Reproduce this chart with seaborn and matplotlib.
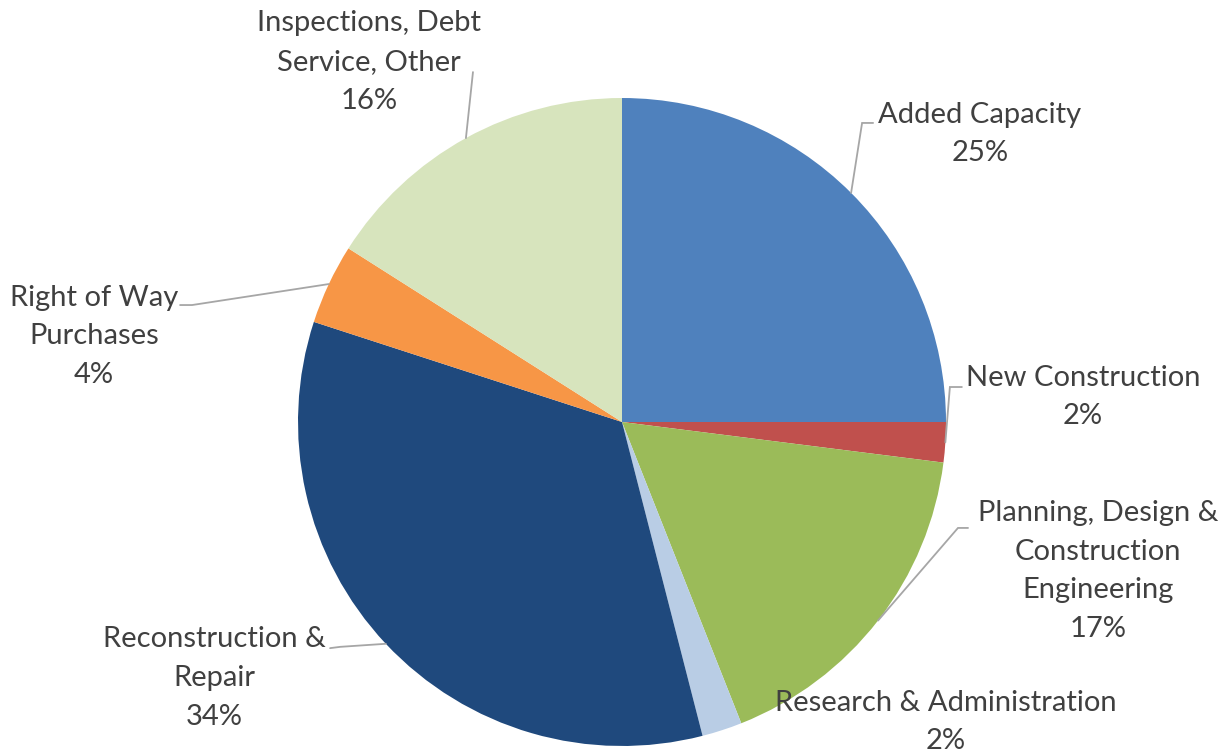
import numpy as np
import matplotlib
matplotlib.use("Agg")
import matplotlib.pyplot as plt
import seaborn as sns

# data
categories = ["Added Capacity", "New Construction",
              "Planning, Design &\nConstruction\nEngineering",
              "Research & Administration", "Reconstruction &\nRepair",
              "Right of Way\nPurchases", "Inspections, Debt\nService, Other"]
shares = [25, 2, 17, 2, 34, 4, 16]
colors = ["#4F81BD", "#C0504D", "#9BBB59", "#B9CDE5", "#1F497D", "#F79646", "#D7E4BD"]

# label layout (pie radius = 1)
label_pos = [(1.105, 0.889), (1.423, 0.077), (1.469, -0.460), (1.0, -0.926),
             (-1.259, -0.790), (-1.630, 0.265), (-0.781, 1.111)]
# leader line elbows / ends, None = no leader
leader = [((0.741, 0.923), (0.775, 0.923)),
          ((1.012, 0.108), (1.049, 0.108)),
          ((1.037, -0.327), (1.068, -0.327)),
          None,
          ((-0.870, -0.694), (-0.901, -0.698)),
          ((-1.327, 0.361), (-1.364, 0.361)),
          ((-0.460, 1.080), (-0.460, 1.080))]

sns.set_style("white")
plt.rcParams['font.family'] = ['Lato', 'DejaVu Sans']
text_color = "#404040"
line_color = "#A6A6A6"

fig = plt.figure(figsize=(12.27, 7.55), dpi=100)
ax = fig.add_axes([0, 0, 1, 1])
wedges, _ = ax.pie(shares, colors=colors, startangle=90, counterclock=False,
                   radius=1, center=(0, 0), wedgeprops=dict(linewidth=0))
ax.set_xlim(-1.9198, 1.8673)
ax.set_ylim(-1.0278, 1.3025)
ax.set_aspect('equal')
ax.axis('off')

for w, cat, val, pos, ld in zip(wedges, categories, shares, label_pos, leader):
    if ld is not None:
        ang = np.deg2rad((w.theta1 + w.theta2) / 2)
        x0, y0 = np.cos(ang), np.sin(ang)
        (x1, y1), (x2, y2) = ld
        ax.plot([x0, x1, x2], [y0, y1, y2], color=line_color, lw=1.3,
                solid_joinstyle='miter', zorder=1)
    ax.text(pos[0], pos[1], f"{cat}\n{val}%", ha='center', va='center',
            fontsize=21, color=text_color, linespacing=1.6)

fig.savefig("out.png", dpi=100, facecolor="white")
